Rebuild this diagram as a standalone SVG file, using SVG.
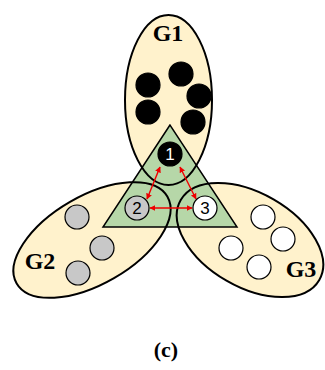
<svg xmlns="http://www.w3.org/2000/svg" width="325" height="370" viewBox="0 0 325 370">
<style>
.fill{fill:#fff2cc;stroke:none}
.edge{fill:none;stroke:#000;stroke-width:2}
.dot{stroke:#000;stroke-width:1.2}
.blk{fill:#000}
.gry{fill:#c8c8c8}
.wht{fill:#fff}
.lbl{font-family:"Liberation Serif",serif;font-weight:bold;font-size:24px;fill:#000}
.cap{font-family:"Liberation Serif",serif;font-weight:bold;font-size:22px;fill:#000;text-anchor:middle}
.num{font-family:"Liberation Sans",Arial,sans-serif;font-size:17px;text-anchor:middle}
.arr{stroke:#e00;stroke-width:1.4;fill:none;marker-start:url(#ah);marker-end:url(#ah)}
</style>
<defs>
<marker id="ah" viewBox="0 0 10 10" refX="9" refY="5" markerWidth="6" markerHeight="6" orient="auto-start-reverse" markerUnits="userSpaceOnUse">
<path d="M0,0 L10,5 L0,10 z" fill="#e00"/>
</marker>
</defs>
<rect width="325" height="370" fill="#fff"/>
<g id="fills">
<ellipse class="fill" cx="168.5" cy="100" rx="43.5" ry="85"/>
<ellipse class="fill" cx="92" cy="240" rx="87" ry="44" transform="rotate(-30 92 240)"/>
<ellipse class="fill" cx="250" cy="240" rx="80" ry="47" transform="rotate(30 250 240)"/>
</g>
<g id="triangle">
<polygon points="170,125 103,227 237,227" fill="#b6d7a8" stroke="#000" stroke-width="1.5"/>
</g>
<g id="G1">
<ellipse class="edge" cx="168.5" cy="100" rx="43.5" ry="85"/>
<text class="lbl" x="168" y="41" text-anchor="middle">G1</text>
<circle class="dot blk" cx="148" cy="85" r="12"/>
<circle class="dot blk" cx="181" cy="74" r="12"/>
<circle class="dot blk" cx="199" cy="96" r="12"/>
<circle class="dot blk" cx="148" cy="112" r="12"/>
<circle class="dot blk" cx="193" cy="122" r="12"/>
</g>
<g id="G2">
<ellipse class="edge" cx="92" cy="240" rx="87" ry="44" transform="rotate(-30 92 240)"/>
<text class="lbl" x="40" y="269" text-anchor="middle">G2</text>
<circle class="dot gry" cx="77" cy="217" r="12"/>
<circle class="dot gry" cx="102" cy="248" r="12"/>
<circle class="dot gry" cx="78" cy="273" r="12"/>
</g>
<g id="G3">
<ellipse class="edge" cx="250" cy="240" rx="80" ry="47" transform="rotate(30 250 240)"/>
<text class="lbl" x="301" y="277" text-anchor="middle">G3</text>
<circle class="dot wht" cx="263" cy="217" r="12"/>
<circle class="dot wht" cx="283" cy="239" r="12"/>
<circle class="dot wht" cx="231" cy="248" r="12"/>
<circle class="dot wht" cx="259" cy="267" r="12"/>
</g>
<g id="connectors">
<line class="arr" x1="160" y1="167" x2="147" y2="199"/>
<line class="arr" x1="180" y1="167" x2="196" y2="199"/>
<line class="arr" x1="150" y1="208" x2="192" y2="208"/>
</g>
<g id="node1">
<circle cx="170" cy="154" r="12" fill="#000" stroke="#000" stroke-width="1.2"/>
<text class="num" x="170" y="160" fill="#fff">1</text>
</g>
<g id="node2">
<circle cx="137" cy="208" r="12" fill="#c8c8c8" stroke="#000" stroke-width="1.2"/>
<text class="num" x="137" y="214" fill="#000">2</text>
</g>
<g id="node3">
<circle cx="205" cy="208" r="12" fill="#fff" stroke="#000" stroke-width="1.2"/>
<text class="num" x="205" y="214" fill="#000">3</text>
</g>
<text class="cap" x="166" y="357">(c)</text>
</svg>
